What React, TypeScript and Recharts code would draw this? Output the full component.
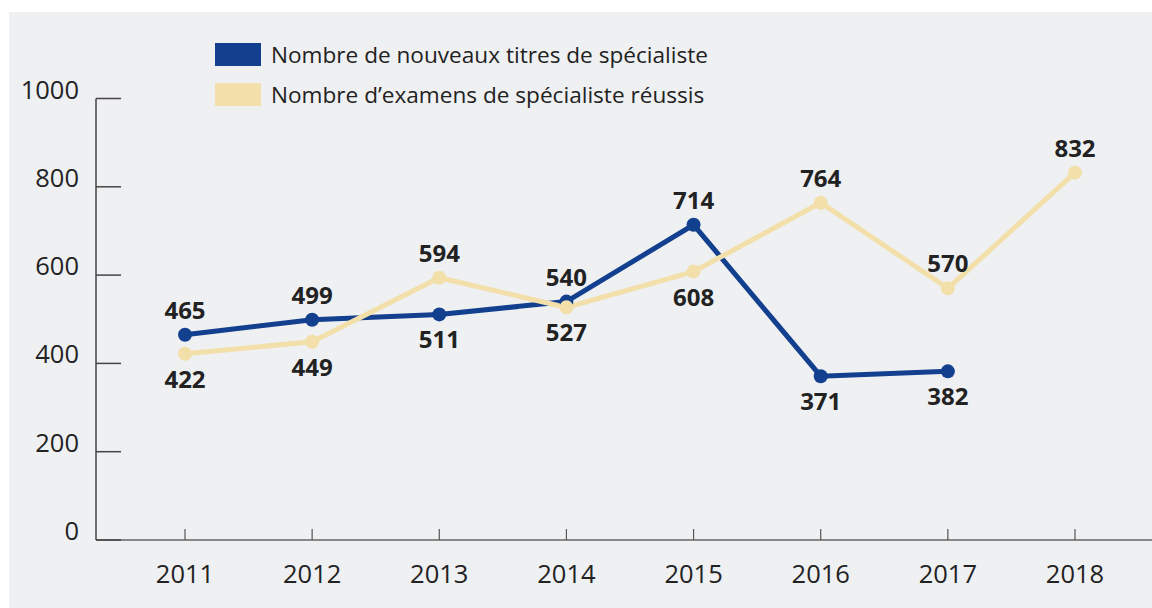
import React from "react";
import { LineChart, Line, XAxis, YAxis, Legend, LabelList } from "recharts";

const years = ["2011", "2012", "2013", "2014", "2015", "2016", "2017", "2018"];
const nouveauxTitres: (number | null)[] = [465, 499, 511, 540, 714, 371, 382, null];
const examensReussis: (number | null)[] = [422, 449, 594, 527, 608, 764, 570, 832];
const yTicks = [0, 200, 400, 600, 800, 1000];

const seriesNames = {
  titres: "Nombre de nouveaux titres de spécialiste",
  examens: "Nombre d\u2019examens de spécialiste réussis",
};

const BLUE = "#123f8e";
const BEIGE = "#f3dfaa";
const BG = "#eff0f2";
const TEXT = "#222222";
const FONT = "'Open Sans', sans-serif";
const LEGEND_H = 80;

const data = years.map((y, i) => ({
  year: y,
  titres: nouveauxTitres[i],
  examens: examensReussis[i],
}));

function isAbove(key: "titres" | "examens", index: number): boolean {
  const self = key === "titres" ? nouveauxTitres[index] : examensReussis[index];
  const other = key === "titres" ? examensReussis[index] : nouveauxTitres[index];
  if (other == null || self == null) return true;
  return self >= other;
}

const makeLabel = (key: "titres" | "examens") => (props: any) => {
  const { x, y, value, index } = props;
  if (value == null) return null;
  const above = isAbove(key, index);
  return (
    <text
      x={x}
      y={above ? y - 16 : y + 34}
      textAnchor="middle"
      fontFamily={FONT}
      fontWeight={700}
      fontSize={24}
      fill={TEXT}
    >
      {value}
    </text>
  );
};

const YTick = (props: any) => {
  const { x, y, payload } = props;
  return (
    <g>
      <line x1={x} y1={y} x2={x + 25} y2={y} stroke="#444" strokeWidth={1.5} />
      <text x={x - 17} y={y} textAnchor="end" fontFamily={FONT} fontSize={25.5} fill={TEXT}>
        {payload.value}
      </text>
    </g>
  );
};

const XTick = (props: any) => {
  const { x, y, payload } = props;
  return (
    <g>
      <line x1={x} y1={y - 11} x2={x} y2={y} stroke="#555" strokeWidth={1.2} />
      <text x={x} y={y + 43} textAnchor="middle" fontFamily={FONT} fontSize={25.5} fill={TEXT}>
        {payload.value}
      </text>
    </g>
  );
};

const LegendContent = () => {
  const items = [
    { color: BLUE, label: seriesNames.titres },
    { color: BEIGE, label: seriesNames.examens },
  ];
  return (
    <div>
      {items.map((it, i) => (
        <div
          key={i}
          style={{ display: "flex", alignItems: "center", height: 40, fontFamily: FONT, fontSize: 22.6, color: TEXT, whiteSpace: "nowrap" }}
        >
          <div style={{ width: 46, height: 23, background: it.color, marginRight: 10, flex: "none" }} />
          <span>{it.label}</span>
        </div>
      ))}
    </div>
  );
};

export default function App() {
  return (
    <div style={{ position: "fixed", left: 9, top: 12, width: 1143, height: 596, background: BG }}>
      <LineChart
        width={1143}
        height={596}
        data={data}
        margin={{ top: 86.5 - LEGEND_H, right: 0, bottom: 0, left: 0 }}
      >
        <XAxis
          dataKey="year"
          type="category"
          padding={{ left: 89, right: 77 }}
          height={68}
          tickSize={0}
          tickMargin={0}
          tick={<XTick />}
          axisLine={{ stroke: "#666", strokeWidth: 1.5 }}
          tickLine={false}
          interval={0}
        />
        <YAxis
          domain={[0, 1000]}
          ticks={yTicks}
          width={87}
          tickSize={0}
          tickMargin={0}
          tick={<YTick />}
          axisLine={{ stroke: "#444", strokeWidth: 1.5 }}
          tickLine={false}
          interval={0}
        />
        <Legend
          verticalAlign="top"
          align="left"
          content={<LegendContent />}
          wrapperStyle={{ position: "absolute", top: 22, left: 206, width: 700, height: LEGEND_H }}
        />
        <Line
          dataKey="titres"
          name={seriesNames.titres}
          stroke={BLUE}
          strokeWidth={5}
          dot={{ r: 7, fill: BLUE, stroke: "none" }}
          activeDot={false}
          isAnimationActive={false}
        >
          <LabelList dataKey="titres" content={makeLabel("titres")} />
        </Line>
        <Line
          dataKey="examens"
          name={seriesNames.examens}
          stroke={BEIGE}
          strokeWidth={5}
          dot={{ r: 7, fill: BEIGE, stroke: "none" }}
          activeDot={false}
          isAnimationActive={false}
        >
          <LabelList dataKey="examens" content={makeLabel("examens")} />
        </Line>
      </LineChart>
    </div>
  );
}
